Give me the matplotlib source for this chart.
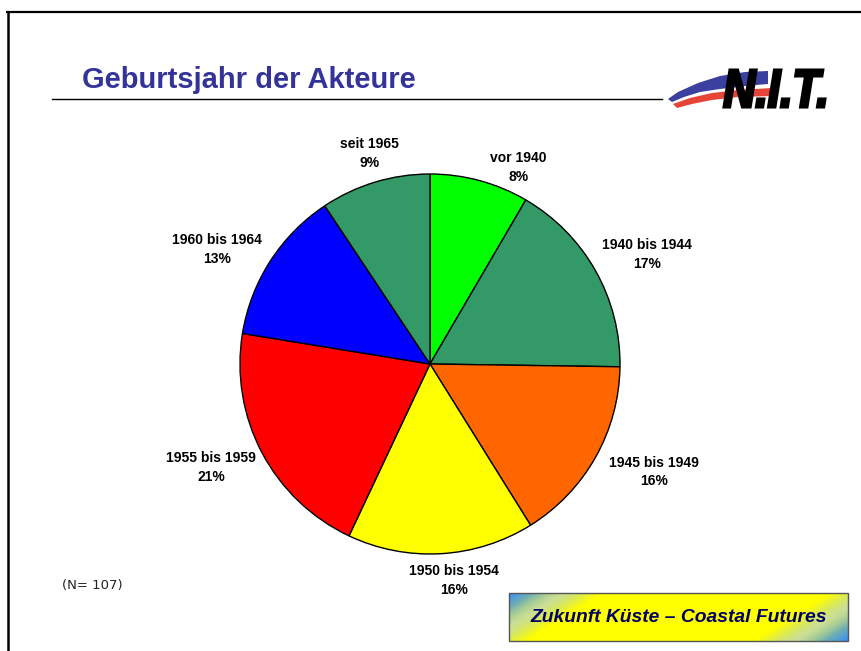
import numpy as np
import matplotlib
matplotlib.use("Agg")
import matplotlib.pyplot as plt
from matplotlib.textpath import TextPath
from matplotlib.font_manager import FontProperties
from matplotlib.patches import PathPatch, Polygon, Rectangle
from matplotlib.transforms import Affine2D

# ---- data ----
categories = ["vor 1940", "1940 bis 1944", "1945 bis 1949", "1950 bis 1954",
              "1955 bis 1959", "1960 bis 1964", "seit 1965"]
counts = [9, 18, 17, 17, 22, 14, 10]
percent_labels = ["8%", "17%", "16%", "16%", "21%", "13%", "9%"]
slice_colors = ["#00FF00", "#339966", "#FF6600", "#FFFF00", "#FF0000", "#0000FF", "#339966"]
title_text = "Geburtsjahr der Akteure"
n_text = "(N= 107)"
footer_text = "Zukunft Küste – Coastal Futures"

# label layout (angle nudge in degrees clockwise from slice middle, radial distance / radius)
label_nudge = [9.0, 2.7, -3.7, -2.9, 2.4, -4.5, 0.8]
label_dist = [1.136, 1.278, 1.309, 1.146, 1.276, 1.273, 1.155]

W, H = 862, 651
fig = plt.figure(figsize=(W / 100, H / 100), dpi=100)
fig.patch.set_facecolor("white")

bg = fig.add_axes([0, 0, 1, 1])
bg.set_xlim(0, W)
bg.set_ylim(H, 0)
bg.axis("off")

# frame lines
bg.plot([6, W], [12, 12], color="black", lw=1.6, solid_capstyle="butt")
bg.plot([8, 8], [11, H], color="black", lw=1.8, solid_capstyle="butt")

# title and underline
bg.text(82, 88, title_text, color="#333399", fontsize=21, fontweight="bold",
        family="Liberation Sans", ha="left", va="baseline")
bg.plot([52, 662], [98.5, 98.5], color="black", lw=1.0)

# logo swooshes
blue_sw = [(668, 99), (678, 92), (698, 83), (720, 76), (745, 72), (768, 71),
           (768, 84), (745, 86), (720, 89), (700, 92), (684, 97), (672, 102)]
red_sw = [(673, 104), (690, 98), (712, 93), (738, 90), (772, 88),
          (772, 96), (738, 97), (712, 100), (692, 104), (677, 108)]
bg.add_patch(Polygon(blue_sw, closed=True, facecolor="#3b3f9e", edgecolor="none"))
bg.add_patch(Polygon(red_sw, closed=True, facecolor="#e54436", edgecolor="none"))

fp = FontProperties(family="Liberation Sans", weight="bold", style="italic")
tp = TextPath((0, 0), "N.I.T.", prop=fp, size=10)
ext = tp.get_extents()
sx = (825 - 724) / ext.width
sy = (107 - 70) / ext.height
tr = Affine2D().translate(-ext.x0, -ext.y0).scale(sx, -sy).translate(724, 107)
bg.add_patch(PathPatch(tr.transform_path(tp), facecolor="black", edgecolor="black",
                       lw=2.2, joinstyle="miter"))

# N text
bg.text(62, 585, n_text, fontsize=9.5, family="DejaVu Sans", color="#222222",
        ha="left", va="center")

# footer gradient box
bx0, bx1, by0, by1 = 509, 848, 593, 641
nx, ny = int(bx1 - bx0), int(by1 - by0)
px = np.arange(nx)[None, :] + 0.5
py = np.arange(ny)[:, None] + 0.5
s1 = px + 1.6 * py
s2 = (nx - px) + 1.6 * (ny - py)
w1 = np.clip(1 - s1 / 95.0, 0, 1) ** 1.2
w2 = np.clip(1 - s2 / 95.0, 0, 1) ** 1.2
wb = np.clip(w1 + w2, 0, 1)
blue = np.array([0.2, 0.55, 1.0])
yellow = np.array([1.0, 1.0, 0.0])
pale = np.array([0.85, 0.9, 0.75])
mid = np.clip(1 - np.abs(wb - 0.35) / 0.35, 0, 1)[..., None]
img = yellow * (1 - wb[..., None]) + blue * wb[..., None]
img = img * (1 - 0.6 * mid) + pale * 0.6 * mid
bg.imshow(img, extent=[bx0, bx1, by1, by0], aspect="auto", zorder=1,
          interpolation="bilinear")
bg.add_patch(Rectangle((bx0, by0), bx1 - bx0, by1 - by0, fill=False,
                       edgecolor="#555555", lw=1.0, zorder=2))
bg.text((bx0 + bx1) / 2 + 0.5, (by0 + by1) / 2 + 1, footer_text, fontsize=13.9,
        fontweight="bold", style="italic", family="Liberation Sans",
        color="#000066", ha="center", va="center", zorder=3)
bg.set_xlim(0, W)
bg.set_ylim(H, 0)

# ---- pie ----
cx, cy, R = 430, 364, 190
pax = fig.add_axes([(cx - R) / W, (H - cy - R) / H, 2 * R / W, 2 * R / H])
wedges, _ = pax.pie(counts, colors=slice_colors, startangle=90, counterclock=False,
                    wedgeprops=dict(edgecolor="black", linewidth=1.0))
pax.set_xlim(-1, 1)
pax.set_ylim(-1, 1)
pax.set_aspect("equal")

for w, cat, pct, nud, dist in zip(wedges, categories, percent_labels, label_nudge, label_dist):
    ang = np.deg2rad((w.theta1 + w.theta2) / 2 - nud)
    pax.text(np.cos(ang) * dist, np.sin(ang) * dist, f"{cat}\n{pct}", ha="center",
             va="center", fontsize=10, fontweight="bold", family="Liberation Sans",
             linespacing=1.45, clip_on=False)

fig.savefig("out.png", dpi=100)
